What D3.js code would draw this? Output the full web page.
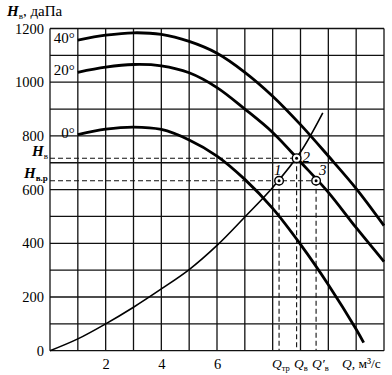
<!DOCTYPE html>
<html>
<head>
<meta charset="utf-8">
<script src="https://d3js.org/d3.v7.min.js"></script>
<style>
  body { margin: 0; background: #fff; }
  svg { display: block; font-family: "Liberation Serif", "DejaVu Serif", serif; }
</style>
</head>
<body>
<svg id="drawing_region"></svg>
<script>
// fan curves at three temperatures (Q in m3/s, H in daPa)
const fan_q = [1, 2, 3, 4, 5, 6, 7, 8, 9, 10, 11, 12];
const fan_h40 = [1157, 1175, 1184, 1178, 1152, 1108, 1037, 948, 842, 725, 604, 466];
const fan_h20 = [1037, 1056, 1066, 1061, 1035, 980, 900, 813, 703, 590, 458, 332];
const fan0_q = [1, 2, 3, 4, 5, 6, 7, 8, 9, 10, 11, 11.27];
const fan_h0 = [805, 825, 833, 824, 785, 725, 638, 530, 396, 246, 80, 30];
const fan_labels = ['40°', '20°', '0°'];

// network characteristic
const net_q = [0, 1, 2, 3, 4, 5, 6, 7, 8, 9, 9.8];
const net_h = [0, 44, 100, 162, 230, 302, 392, 498, 608, 740, 886];

// working points 1, 2, 3
const point_q = [8.23, 8.86, 9.56];
const point_h = [633, 717, 633];
const point_labels = ['1', '2', '3'];

const x_ticks = [2, 4, 6];
const y_ticks = [0, 200, 400, 600, 800, 1000, 1200];

var config = {
    parent: '#drawing_region',
    width: 392,
    height: 375,
    margin: {top: 28.5, right: 8, bottom: 24.3, left: 50}
};

const svg = d3.select(config.parent)
    .attr('width', config.width)
    .attr('height', config.height);

const inner_width = config.width - config.margin.left - config.margin.right;
const inner_height = config.height - config.margin.top - config.margin.bottom;

const xscale = d3.scaleLinear().domain([0, 12]).range([0, inner_width]);
const yscale = d3.scaleLinear().domain([0, 1200]).range([inner_height, 0]);

const chart = svg.append('g')
    .attr('transform', `translate(${config.margin.left}, ${config.margin.top})`);

// grid
const grid = chart.append('g');
grid.selectAll('.vline')
    .data(d3.range(0, 13))
    .join('line')
    .attr('x1', d => xscale(d)).attr('x2', d => xscale(d))
    .attr('y1', 0).attr('y2', inner_height)
    .attr('stroke', '#111').attr('stroke-width', 1.3);
grid.selectAll('.hline')
    .data(d3.range(0, 1300, 100))
    .join('line')
    .attr('x1', 0).attr('x2', inner_width)
    .attr('y1', d => yscale(d)).attr('y2', d => yscale(d))
    .attr('stroke', '#111').attr('stroke-width', 1.3);

// axes (labels only, grid carries the lines)
const xaxis = d3.axisBottom(xscale).tickValues(x_ticks).tickSize(0).tickPadding(8);
const yaxis = d3.axisLeft(yscale).tickValues(y_ticks).tickFormat(d3.format('d')).tickSize(0).tickPadding(6);

chart.append('g')
    .attr('transform', `translate(0, ${inner_height})`)
    .call(xaxis)
    .call(g => g.select('.domain').remove())
    .selectAll('text')
    .attr('font-family', 'Liberation Serif').attr('font-size', 14.5).attr('fill', '#000');

chart.append('g')
    .call(yaxis)
    .call(g => g.select('.domain').remove())
    .selectAll('text')
    .attr('font-family', 'Liberation Serif').attr('font-size', 14.5).attr('fill', '#000');

// dashed guide lines
const dash = chart.append('g')
    .attr('stroke', '#111').attr('stroke-width', 1.1).attr('stroke-dasharray', '5,3').attr('fill', 'none');
dash.append('line')
    .attr('x1', 0).attr('x2', xscale(point_q[1]))
    .attr('y1', yscale(point_h[1])).attr('y2', yscale(point_h[1]));
dash.append('line')
    .attr('x1', 0).attr('x2', xscale(point_q[2]))
    .attr('y1', yscale(point_h[0])).attr('y2', yscale(point_h[0]));
dash.selectAll('.vdash')
    .data(point_q.map((q, i) => ({q: q, h: point_h[i]})))
    .join('line')
    .attr('x1', d => xscale(d.q)).attr('x2', d => xscale(d.q))
    .attr('y1', d => yscale(d.h)).attr('y2', inner_height);

// curves
const line = d3.line()
    .x(d => xscale(d[0]))
    .y(d => yscale(d[1]))
    .curve(d3.curveCatmullRom.alpha(0.5));

const fans = [
    d3.zip(fan_q, fan_h40),
    d3.zip(fan_q, fan_h20),
    d3.zip(fan0_q, fan_h0)
];

chart.selectAll('.fan')
    .data(fans)
    .join('path')
    .attr('d', line)
    .attr('fill', 'none')
    .attr('stroke', '#000')
    .attr('stroke-width', 2.8);

chart.append('path')
    .attr('d', line(d3.zip(net_q, net_h)))
    .attr('fill', 'none')
    .attr('stroke', '#000')
    .attr('stroke-width', 1.6);

// curve labels
chart.selectAll('.fanlabel')
    .data(fans)
    .join('text')
    .attr('x', d => xscale(d[0][0]) - 3)
    .attr('y', d => yscale(d[0][1]) + 3)
    .attr('text-anchor', 'end')
    .attr('font-size', 15)
    .text((d, i) => fan_labels[i]);

// working points
const pts = chart.selectAll('.pt')
    .data(point_q.map((q, i) => ({q: q, h: point_h[i], label: point_labels[i]})))
    .join('g')
    .attr('transform', d => `translate(${xscale(d.q)}, ${yscale(d.h)})`);
pts.append('circle').attr('r', 4.3).attr('fill', '#fff').attr('stroke', '#000').attr('stroke-width', 1.4);
pts.append('circle').attr('r', 1.5).attr('fill', '#000');
pts.append('text')
    .attr('x', (d, i) => [-5, 6, 3][i])
    .attr('y', (d, i) => [-6, 4, -6][i])
    .attr('font-size', 15)
    .attr('font-style', 'italic')
    .text(d => d.label);

// axis titles
const ttl = svg.append('text')
    .attr('x', 7).attr('y', 16)
    .attr('font-size', 15);
ttl.append('tspan').attr('font-style', 'italic').attr('font-weight', 'bold').text('H');
ttl.append('tspan').attr('font-size', 9).attr('dy', 3).text('в');
ttl.append('tspan').attr('dy', -3).text(', даПа');

const hv = svg.append('text')
    .attr('x', 32).attr('y', config.margin.top + yscale(point_h[1]) - 2)
    .attr('font-size', 15).attr('font-style', 'italic');
hv.append('tspan').attr('font-weight', 'bold').text('H');
hv.append('tspan').attr('font-size', 9).attr('dy', 3).attr('font-style', 'normal').text('в');

const hvr = svg.append('text')
    .attr('x', 24).attr('y', config.margin.top + yscale(point_h[0]) - 3)
    .attr('font-size', 15).attr('font-style', 'italic');
hvr.append('tspan').attr('font-weight', 'bold').text('H');
hvr.append('tspan').attr('font-size', 9).attr('dy', 3).attr('font-style', 'normal').attr('font-weight', 'bold').text('в.р');

// Q labels under the axis
const qy = config.margin.top + inner_height + 17;
const qlab = svg.append('g').attr('font-size', 13.5);

const q1 = qlab.append('text').attr('x', 272).attr('y', qy);
q1.append('tspan').attr('font-style', 'italic').text('Q');
q1.append('tspan').attr('font-size', 8.5).attr('dy', 3).text('тр');

const q2 = qlab.append('text').attr('x', 294).attr('y', qy);
q2.append('tspan').attr('font-style', 'italic').text('Q');
q2.append('tspan').attr('font-size', 8.5).attr('dy', 3).text('в');

const q3 = qlab.append('text').attr('x', 312).attr('y', qy);
q3.append('tspan').attr('font-style', 'italic').text('Q′');
q3.append('tspan').attr('font-size', 8.5).attr('dy', 3).text('в');

const q4 = qlab.append('text').attr('x', 342).attr('y', qy);
q4.append('tspan').attr('font-style', 'italic').text('Q');
q4.append('tspan').text(', м³/с');
</script>
</body>
</html>
